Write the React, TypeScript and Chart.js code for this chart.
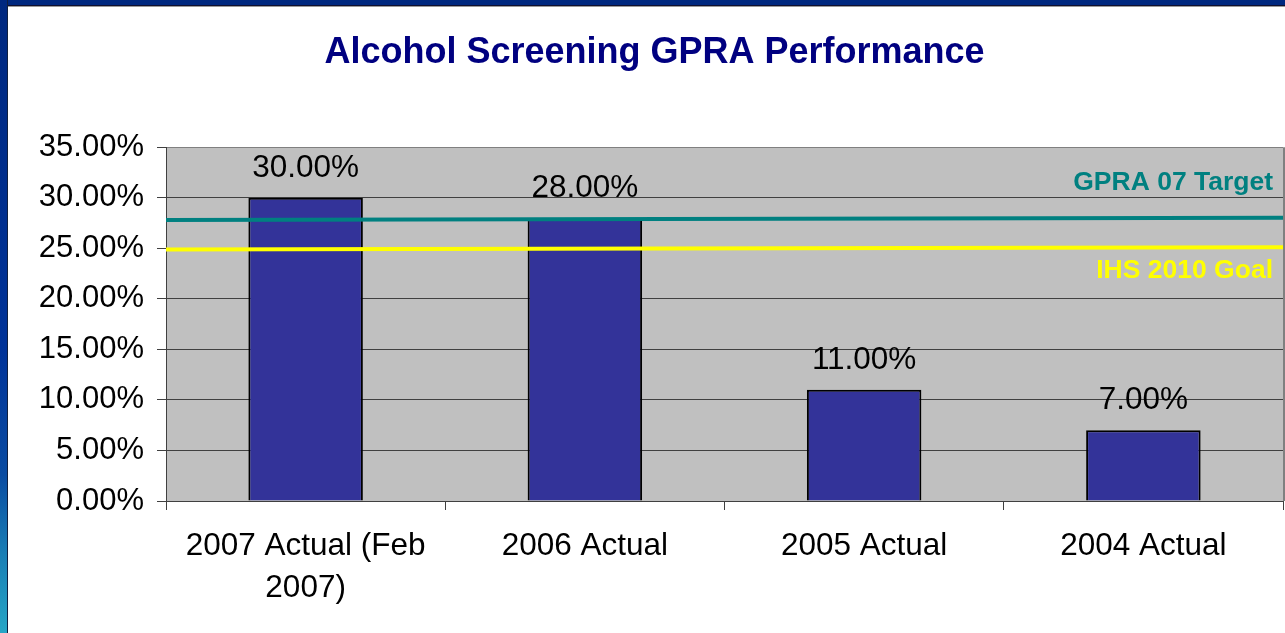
import React, { useEffect, useRef } from "react";
import { Chart, registerables } from "chart.js";

Chart.register(...registerables);

const TITLE = "Alcohol Screening GPRA Performance";
const categories: (string | string[])[] = [
  ["2007 Actual (Feb", "2007)"],
  "2006 Actual",
  "2005 Actual",
  "2004 Actual",
];
const actualValues = [30, 28, 11, 7];
const targetName = "GPRA 07 Target";
const targetLine = [
  { x: 0, y: 27.8 },
  { x: 1, y: 28.03 },
];
const goalName = "IHS 2010 Goal";
const goalLine = [
  { x: 0, y: 24.89 },
  { x: 1, y: 25.11 },
];
const yMin = 0;
const yMax = 35;
const yStep = 5;

const FONT = "'Liberation Sans', Arial, Helvetica, sans-serif";

const labelPlugin = {
  id: "customLabels",
  afterDatasetsDraw(chart: any) {
    const ctx = chart.ctx;
    const yScale = chart.scales.y;
    const area = chart.chartArea;
    ctx.save();
    // bar value labels
    const meta = chart.getDatasetMeta(0);
    ctx.font = `31.5px ${FONT}`;
    ctx.fillStyle = "#000000";
    ctx.textAlign = "center";
    ctx.textBaseline = "alphabetic";
    meta.data.forEach((el: any, i: number) => {
      const v = chart.data.datasets[0].data[i] as number;
      ctx.fillText(v.toFixed(2) + "%", el.x, el.y - 21);
    });
    // line labels
    ctx.font = `bold 26.5px ${FONT}`;
    ctx.textAlign = "right";
    const t = chart.data.datasets[1];
    const tLast = (t.data[t.data.length - 1] as any).y;
    ctx.fillStyle = t.borderColor;
    ctx.fillText(t.label, area.right - 10, yScale.getPixelForValue(tLast) - 28);
    const g = chart.data.datasets[2];
    const gLast = (g.data[g.data.length - 1] as any).y;
    ctx.fillStyle = g.borderColor;
    ctx.fillText(g.label, area.right - 10, yScale.getPixelForValue(gLast) + 31);
    ctx.restore();
  },
};

export default function App() {
  const ref = useRef<HTMLCanvasElement | null>(null);

  useEffect(() => {
    if (!ref.current) return;
    Chart.defaults.font.family = FONT;
    const chart = new Chart(ref.current, {
      type: "bar",
      data: {
        labels: categories as any,
        datasets: [
          {
            type: "bar",
            label: "Actual",
            data: actualValues,
            backgroundColor: "#333399",
            borderColor: "#000000",
            borderWidth: 2,
            categoryPercentage: 1,
            barPercentage: 0.41,
            grouped: false,
            order: 2,
            xAxisID: "x",
          } as any,
          {
            type: "line",
            label: targetName,
            data: targetLine,
            borderColor: "#008080",
            borderWidth: 4,
            pointRadius: 0,
            fill: false,
            order: 0,
            xAxisID: "x2",
          } as any,
          {
            type: "line",
            label: goalName,
            data: goalLine,
            borderColor: "#FFFF00",
            borderWidth: 4,
            pointRadius: 0,
            fill: false,
            order: 1,
            xAxisID: "x2",
          } as any,
        ],
      },
      options: {
        animation: false,
        responsive: false,
        maintainAspectRatio: false,
        layout: { padding: { left: 26, right: 2, top: 0, bottom: 0 } },
        plugins: {
          legend: { display: false },
          tooltip: { enabled: false },
          title: {
            display: true,
            text: TITLE,
            color: "#000080",
            font: { size: 36, weight: "bold", family: FONT, lineHeight: 1.2 },
            padding: { top: 31, bottom: 73 },
          },
        },
        scales: {
          x: {
            type: "category",
            offset: true,
            grid: {
              offset: true,
              drawOnChartArea: false,
              drawTicks: true,
              tickLength: 9,
              color: "#404040",
            },
            border: { display: true, color: "#404040", width: 1 },
            ticks: {
              color: "#000000",
              font: { size: 31.5, family: FONT, lineHeight: 1.33 },
              padding: 15,
              maxRotation: 0,
              autoSkip: false,
            },
            afterFit(scale: any) {
              scale.height = 132;
            },
          },
          x2: {
            type: "linear",
            min: 0,
            max: 1,
            offset: false,
            display: false,
            grid: { offset: false },
          },
          y: {
            type: "linear",
            min: yMin,
            max: yMax,
            ticks: {
              stepSize: yStep,
              color: "#000000",
              font: { size: 31, family: FONT },
              padding: 13,
              callback: (v: any) => Number(v).toFixed(2) + "%",
            },
            grid: {
              color: (c: any) => (c.tick && c.tick.value === yMax ? "#808080" : "#404040"),
              lineWidth: 1,
              drawTicks: true,
              tickLength: 9,
              tickColor: "#404040",
            },
            border: { display: true, color: "#404040", width: 1 },
            afterFit(scale: any) {
              scale.width = 140;
            },
          },
        },
      },
      plugins: [
        {
          id: "plotBg",
          beforeDraw(chart: any) {
            const { ctx, chartArea } = chart;
            ctx.save();
            ctx.fillStyle = "#C0C0C0";
            ctx.fillRect(
              chartArea.left,
              chartArea.top,
              chartArea.right - chartArea.left,
              chartArea.bottom - chartArea.top
            );
            ctx.strokeStyle = "#808080";
            ctx.lineWidth = 2;
            ctx.beginPath();
            ctx.moveTo(chartArea.right + 1, chartArea.top);
            ctx.lineTo(chartArea.right + 1, chartArea.bottom);
            ctx.stroke();
            ctx.restore();
          },
        },
        labelPlugin,
      ],
    });
    return () => chart.destroy();
  }, []);

  return (
    <div
      style={{
        position: "fixed",
        left: 0,
        top: 0,
        width: 1285,
        height: 633,
        background: "#ffffff",
        overflow: "hidden",
      }}
    >
      <canvas
        ref={ref}
        width={1285}
        height={633}
        style={{ position: "absolute", left: 0, top: 0, width: 1285, height: 633 }}
      />
      <div
        style={{
          position: "absolute",
          left: 0,
          top: 0,
          width: 1285,
          height: 5,
          background: "#00287f",
          borderBottom: "1px solid #101030",
        }}
      />
      <div
        style={{
          position: "absolute",
          left: 0,
          top: 6,
          width: 1285,
          height: 1,
          background: "#9a9a9a",
        }}
      />
      <div
        style={{
          position: "absolute",
          left: 0,
          top: 0,
          width: 7,
          height: 633,
          background:
            "linear-gradient(to bottom, #00287f 0%, #003399 55%, #0a4ca2 75%, #1a80b6 88%, #26a6c6 100%)",
          borderRight: "1px solid #102040",
        }}
      />
    </div>
  );
}
